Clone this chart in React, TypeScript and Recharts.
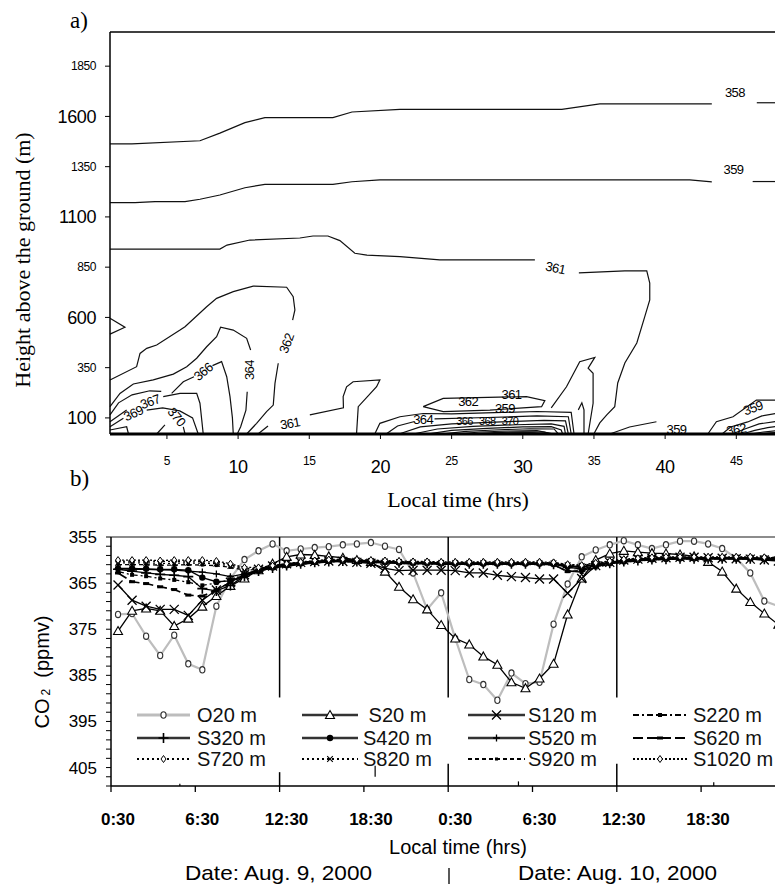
import React from 'react';
import { LineChart, Line, XAxis, YAxis, ReferenceLine, ReferenceDot, Legend } from 'recharts';

const SANS = '"Liberation Sans", Arial, sans-serif';
const SERIF = '"Liberation Serif", "Times New Roman", serif';

// ---------- a) CO2 contours: height above ground vs local time ----------

const HEIGHT_TICKS = [100, 350, 600, 850, 1100, 1350, 1600, 1850];
const HEIGHT_BIG = [100, 600, 1100, 1600];
const HOUR_TICKS = [5, 10, 15, 20, 25, 30, 35, 40, 45];
const HOUR_BIG = [10, 20, 30, 40];

// contour polylines as [hour, height m]
const C358_A = [[1, 1463], [2.54, 1463], [7.32, 1479], [8.72, 1517], [10.48, 1569], [11.88, 1594], [16.66, 1594], [18.0, 1622], [21.37, 1635], [32.74, 1635], [35.41, 1662], [43.28, 1662]];
const C358_B = [[46.44, 1668], [48, 1668]];
const C359_A = [[1, 1171], [2.76, 1171], [4.16, 1176], [6.27, 1176], [7.32, 1188], [8.72, 1209], [10.48, 1245], [11.88, 1262], [16.66, 1262], [18.0, 1275], [19.96, 1284], [41.73, 1284], [43.28, 1274]];
const C359_B = [[46.15, 1276], [48, 1276]];
const C361_A = [[1, 940], [8.72, 940], [9.22, 960], [10.83, 985], [14.34, 995], [15.26, 1005], [16.31, 1005], [17.15, 982], [18.2, 919], [19.05, 910], [21.37, 902], [24.17, 886], [30.85, 886]];
const C361_B = [[33.94, 822], [37.17, 832], [38.71, 832], [38.92, 771], [38.92, 687], [38.57, 604], [38.01, 473], [37.17, 373], [36.67, 274], [36.46, 156], [35.9, 115], [35.41, 75], [34.99, 20]];
const C362_A = [[1, 289], [2.87, 355], [3.11, 421], [3.58, 446], [4.28, 463], [5.92, 537], [6.27, 554], [7.79, 653], [8.49, 695], [9.66, 728], [11.06, 756], [13.41, 750], [13.87, 703], [13.99, 637], [13.83, 587]];
const C362_B = [[12.82, 372], [12.59, 272], [12.47, 164], [12.0, 131], [11.3, 73], [10.6, 20]];
const C364_A = [[1, 156], [1.7, 222], [2.64, 269], [4.04, 289], [5.45, 318], [6.39, 355], [7.09, 397], [7.79, 454], [8.49, 504], [8.77, 551], [9.66, 537], [10.6, 496], [10.88, 438]];
const C364_B = [[10.64, 230], [10.55, 139], [10.18, 56], [9.94, 20]];
const C366_A = [[1, 115], [1.6, 175], [2.55, 215], [3.8, 235], [4.6, 232]];
const C366_B = [[5.33, 222], [6.15, 280], [6.9, 305]];
const C366_C = [[8.2, 360], [8.84, 380], [9.2, 305], [9.43, 206], [9.6, 100], [9.66, 20]];
const C367_A = [[1, 81], [2.17, 139]];
const C367_B = [[4.74, 206], [5.92, 222], [7.09, 222], [7.32, 173], [7.55, 20]];
const C369_A = [[1, 56], [1.94, 98]];
const C369_B = [[3.58, 139], [4.7, 150], [5.9, 135], [6.8, 100], [7.2, 20]];
const C370_A = [[4.28, 20], [4.86, 65]];
const C370_B = [[6.15, 56], [6.27, 20]];
const C_BOX = [[1, 40], [2.17, 56], [2.3, 20]];
const C_LEFT = [[1, 596], [2.05, 551], [1, 517]];
const C361_LOW_A = [[11.4, 20], [12.1, 60]];
const C361_LOW_B = [[15.04, 115], [17.4, 150], [17.38, 206], [17.62, 255], [18.08, 280], [19.96, 289], [19.73, 255], [18.44, 156], [18.32, 20]];
const C362_LOOP = [[23.0, 156], [24.41, 197], [30.26, 206], [31.55, 186], [31.32, 156], [27.69, 139], [24.41, 131], [23.0, 156]];
const D1 = [[19.6, 20], [19.96, 73], [21.37, 106], [23.0, 122], [25.0, 120], [28.0, 126], [31.0, 132], [33.4, 128], [33.6, 20]];
const D2_A = [[20.4, 20], [21.2, 60], [22.4, 82]];
const D2_B = [[23.8, 95], [27.5, 102], [31.0, 110], [33.2, 106], [33.4, 20]];
const D3 = [[21.3, 20], [22.8, 55], [25.0, 70], [28.5, 80], [31.5, 88], [33.0, 85], [33.2, 20]];
const D4 = [[22.3, 20], [24.0, 45], [26.5, 58], [29.5, 66], [32.0, 70], [32.9, 58], [33.0, 20]];
const D5 = [[23.3, 20], [25.0, 38], [27.5, 48], [30.0, 55], [32.0, 57], [32.7, 40], [32.8, 20]];
const D6 = [[24.3, 20], [26.0, 33], [28.0, 40], [30.5, 46], [32.2, 45], [32.5, 20]];
const D7 = [[25.3, 20], [27.0, 30], [29.0, 35], [31.0, 37], [32.2, 20]];
const D8 = [[26.3, 20], [28.0, 27], [30.0, 31], [31.5, 29], [32.0, 20]];
const D9 = [[27.3, 20], [29.0, 25], [30.5, 26], [31.6, 20]];
const D10 = [[28.3, 20], [29.5, 23], [30.8, 23], [31.3, 20]];
const TONGUE = [[32.0, 150], [33.07, 255], [34.0, 380], [35.06, 401], [34.59, 347], [34.94, 322], [34.94, 173], [34.59, 20]];
const NARROW = [[33.9, 140], [34.15, 175], [34.3, 140], [34.3, 20]];
const C359_LOW = [[36.11, 20], [37.5, 55], [39.39, 81]];
const R1 = [[43.0, 20], [43.6, 81], [44.77, 106], [46.41, 189], [48, 189]];
const R2 = [[44.0, 20], [44.6, 55], [45.8, 80], [46.8, 110], [48, 125]];
const R3 = [[44.7, 20], [45.6, 45], [46.6, 70], [48, 85]];
const R4 = [[45.4, 20], [46.3, 38], [47.2, 52], [48, 60]];
const R5 = [[46.0, 20], [46.9, 30], [48, 38]];
const R6 = [[46.6, 20], [47.4, 26], [48, 28]];

const CONTOURS = [
  C358_A, C358_B, C359_A, C359_B, C361_A, C361_B, C362_A, C362_B, C364_A, C364_B,
  C366_A, C366_B, C366_C, C367_A, C367_B, C369_A, C369_B, C370_A, C370_B, C_BOX, C_LEFT,
  C361_LOW_A, C361_LOW_B, C362_LOOP, D1, D2_A, D2_B, D3, D4, D5, D6, D7, D8, D9, D10,
  TONGUE, NARROW, C359_LOW, R1, R2, R3, R4, R5, R6,
];

// [text, hour, height, rotation, font size]
const CONTOUR_LABELS: [string, number, number, number, number][] = [
  ['358', 44.9, 1721, 0, 13],
  ['359', 44.8, 1338, 0, 13],
  ['361', 32.3, 846, 12, 13],
  ['362', 13.4, 471, -70, 13],
  ['364', 10.83, 338, -90, 13],
  ['366', 7.55, 330, -40, 13],
  ['367', 3.81, 181, -20, 13],
  ['369', 2.64, 123, -25, 13],
  ['370', 5.68, 106, 50, 13],
  ['361', 13.64, 73, -10, 13],
  ['364', 23.0, 90, 0, 13],
  ['362', 26.16, 183, 0, 13],
  ['361', 29.21, 219, 0, 13],
  ['359', 28.74, 146, 0, 13],
  ['366', 25.9, 84, 0, 11],
  ['368', 27.5, 84, 0, 11],
  ['370', 29.1, 84, 0, 11],
  ['359', 40.8, 43, 0, 13],
  ['359', 46.17, 150, -20, 13],
  ['362', 45.0, 43, -10, 13],
];

// ---------- b) CO2 time series ----------

const TIMES = [0.5, 1.5, 2.5, 3.5, 4.5, 5.5, 6.5, 7.5, 8.5, 9.5, 10.5, 11.5, 12.5, 13.5, 14.5, 15.5, 16.5, 17.5, 18.5, 19.5, 20.5, 21.5, 22.5, 23.5,
  24.5, 25.5, 26.5, 27.5, 28.5, 29.5, 30.5, 31.5, 32.5, 33.5, 34.5, 35.5, 36.5, 37.5, 38.5, 39.5, 40.5, 41.5, 42.5, 43.5, 44.5, 45.5, 46.5, 47.5];
const TIME_TICKS = [0, 6, 12, 18, 24, 30, 36, 42];
const TIME_LABELS = ['0:30', '6:30', '12:30', '18:30', '0:30', '6:30', '12:30', '18:30'];
const CO2_TICKS = [355, 357, 359, 361, 363, 365, 367, 369, 371, 373, 375, 377, 379, 381, 383, 385, 387, 389, 391, 393, 395, 397, 399, 401, 403, 405, 407, 409];
const CO2_LABELLED = [355, 365, 375, 385, 395, 405];

const O20 = [371.8, 371.6, 376.5, 380.7, 376.3, 382.5, 383.8, 370.0, 364.0, 359.9, 358.0, 356.5, 358.0, 357.6, 357.3, 357.1, 356.7, 356.5, 356.2, 357.0, 357.7, 362.8, 370.7, 367.1,
  377.0, 385.9, 387.0, 390.4, 384.5, 386.8, 386.5, 373.9, 365.2, 359.3, 357.8, 356.7, 355.8, 356.7, 357.5, 356.7, 355.9, 355.9, 356.5, 357.5, 359.6, 362.8, 368.9, 370.0];
const S20 = [375.4, 371.0, 370.5, 371.0, 374.3, 372.7, 370.1, 367.8, 365.6, 364.0, 362.2, 360.8, 359.3, 358.8, 358.9, 359.2, 359.5, 360.0, 360.4, 362.5, 365.8, 368.5, 370.7, 374.1,
  377.0, 378.3, 380.9, 382.7, 386.5, 387.8, 385.7, 382.5, 371.8, 364.0, 360.0, 358.6, 358.0, 358.3, 358.5, 358.6, 358.8, 359.2, 360.4, 362.5, 366.2, 369.1, 371.6, 374.0];
const S120 = [365.4, 368.7, 370.0, 370.7, 370.7, 372.0, 368.7, 366.5, 364.8, 363.2, 362.0, 361.3, 360.8, 360.5, 360.3, 360.2, 360.3, 360.5, 360.7, 361.8, 362.3, 362.2, 362.2, 362.2,
  362.3, 362.8, 362.8, 363.3, 363.6, 363.8, 364.1, 364.1, 367.2, 364.0, 361.2, 360.5, 360.0, 359.8, 359.6, 359.5, 359.4, 359.4, 359.5, 359.6, 359.7, 359.8, 360.0, 360.2];
const S220 = [362.5, 363.2, 363.5, 364.0, 364.3, 364.8, 365.5, 365.0, 364.2, 363.2, 362.3, 361.7, 361.3, 360.9, 360.6, 360.4, 360.3, 360.4, 360.5, 360.6, 360.7, 360.8, 360.9, 360.9,
  361.0, 361.0, 361.0, 361.0, 361.0, 361.0, 361.0, 361.1, 362.4, 362.6, 361.6, 360.9, 360.5, 360.2, 360.0, 359.9, 359.8, 359.8, 359.8, 359.8, 359.8, 359.8, 359.9, 359.9];
const S320 = [362.0, 362.4, 362.8, 363.1, 363.3, 363.6, 366.2, 366.7, 365.5, 363.5, 362.4, 361.7, 361.2, 360.8, 360.5, 360.3, 360.2, 360.3, 360.4, 360.5, 360.6, 360.7, 360.7, 360.8,
  360.8, 360.8, 360.8, 360.8, 360.8, 360.8, 360.8, 360.9, 361.6, 361.9, 361.2, 360.7, 360.3, 360.1, 359.9, 359.8, 359.7, 359.7, 359.7, 359.7, 359.7, 359.7, 359.8, 359.8];
const S420 = [361.8, 361.8, 361.9, 362.0, 362.0, 362.2, 363.8, 364.7, 364.5, 363.3, 362.3, 361.6, 361.1, 360.7, 360.4, 360.2, 360.1, 360.2, 360.3, 360.4, 360.5, 360.6, 360.6, 360.7,
  360.7, 360.7, 360.7, 360.7, 360.7, 360.7, 360.7, 360.8, 361.4, 361.6, 361.0, 360.6, 360.2, 360.0, 359.8, 359.7, 359.6, 359.6, 359.6, 359.6, 359.6, 359.6, 359.7, 359.7];
const S520 = [361.9, 362.0, 362.0, 362.1, 362.2, 362.4, 362.6, 363.0, 363.6, 363.0, 362.2, 361.6, 361.0, 360.6, 360.3, 360.1, 360.0, 360.1, 360.2, 360.3, 360.4, 360.5, 360.5, 360.6,
  360.6, 360.6, 360.6, 360.6, 360.6, 360.6, 360.6, 360.7, 361.2, 361.5, 360.9, 360.5, 360.1, 359.9, 359.7, 359.6, 359.5, 359.5, 359.5, 359.5, 359.5, 359.5, 359.6, 359.6];
const S620 = [362.8, 364.7, 365.1, 365.8, 366.4, 367.6, 367.8, 366.5, 364.8, 363.4, 362.4, 361.7, 361.3, 360.9, 360.6, 360.4, 360.3, 360.4, 360.5, 360.6, 360.7, 360.8, 360.8, 360.9,
  360.9, 360.9, 360.9, 360.9, 360.9, 360.9, 360.9, 361.0, 362.5, 362.3, 361.4, 360.8, 360.4, 360.1, 359.9, 359.8, 359.7, 359.7, 359.7, 359.7, 359.7, 359.7, 359.8, 359.8];
const S720 = [360.3, 360.2, 360.2, 360.3, 360.3, 360.2, 360.3, 360.5, 361.0, 361.8, 361.8, 361.4, 360.9, 360.5, 360.2, 360.0, 359.9, 360.0, 360.1, 360.2, 360.3, 360.4, 360.4, 360.5,
  360.5, 360.5, 360.5, 360.5, 360.5, 360.5, 360.5, 360.6, 361.0, 361.2, 360.7, 360.3, 359.9, 359.7, 359.5, 359.4, 359.4, 359.4, 359.4, 359.4, 359.4, 359.4, 359.5, 359.5];
const S820 = [360.6, 360.6, 360.6, 360.7, 360.7, 360.6, 360.7, 360.8, 361.3, 362.0, 361.9, 361.5, 361.0, 360.6, 360.3, 360.1, 360.0, 360.1, 360.2, 360.3, 360.4, 360.5, 360.5, 360.6,
  360.6, 360.6, 360.6, 360.6, 360.6, 360.6, 360.6, 360.7, 361.1, 361.3, 360.8, 360.4, 360.0, 359.8, 359.6, 359.5, 359.5, 359.5, 359.5, 359.5, 359.5, 359.5, 359.6, 359.6];
const S920 = [361.0, 361.0, 361.0, 361.1, 361.1, 361.0, 361.1, 361.2, 361.6, 362.2, 362.0, 361.6, 361.1, 360.7, 360.4, 360.2, 360.1, 360.2, 360.3, 360.4, 360.5, 360.6, 360.6, 360.7,
  360.7, 360.7, 360.7, 360.7, 360.7, 360.7, 360.7, 360.8, 361.3, 361.4, 360.9, 360.5, 360.1, 359.9, 359.7, 359.6, 359.6, 359.6, 359.6, 359.6, 359.6, 359.6, 359.7, 359.7];
const S1020 = [360.0, 360.0, 360.0, 360.1, 360.0, 360.0, 360.0, 360.2, 360.8, 361.6, 361.6, 361.2, 360.8, 360.4, 360.1, 359.9, 359.8, 359.9, 360.0, 360.1, 360.2, 360.3, 360.3, 360.4,
  360.4, 360.4, 360.4, 360.4, 360.4, 360.4, 360.4, 360.5, 360.9, 361.1, 360.6, 360.2, 359.8, 359.6, 359.4, 359.3, 359.3, 359.3, 359.3, 359.3, 359.3, 359.3, 359.4, 359.4];

type Series = { key: string; name: string; values: number[]; marker: string; stroke: string; width: number; dash?: string };

const SERIES: Series[] = [
  { key: 'O20', name: 'O20 m', values: O20, marker: 'circle', stroke: '#bdbdbd', width: 2.2 },
  { key: 'S20', name: ' S20 m', values: S20, marker: 'triangle', stroke: '#000', width: 1.3 },
  { key: 'S120', name: 'S120 m', values: S120, marker: 'cross', stroke: '#000', width: 1.3 },
  { key: 'S220', name: 'S220 m', values: S220, marker: 'square', stroke: '#000', width: 1.3, dash: '6 3 2 3' },
  { key: 'S320', name: 'S320 m', values: S320, marker: 'plus', stroke: '#000', width: 1.3 },
  { key: 'S420', name: 'S420 m', values: S420, marker: 'dot', stroke: '#000', width: 1.3 },
  { key: 'S520', name: 'S520 m', values: S520, marker: 'smallplus', stroke: '#000', width: 1.3 },
  { key: 'S620', name: 'S620 m', values: S620, marker: 'bar', stroke: '#000', width: 1.6, dash: '10 4' },
  { key: 'S720', name: 'S720 m', values: S720, marker: 'diamond', stroke: '#000', width: 1.3, dash: '2 3' },
  { key: 'S820', name: 'S820 m', values: S820, marker: 'smallx', stroke: '#000', width: 1.3, dash: '2 3' },
  { key: 'S920', name: 'S920 m', values: S920, marker: 'tinysquare', stroke: '#000', width: 1.3, dash: '4 3' },
  { key: 'S1020', name: 'S1020 m', values: S1020, marker: 'diamond', stroke: '#000', width: 1.3, dash: '2 2' },
];

const ROWS_B = TIMES.map((t, i) => {
  const row: Record<string, number> = { t };
  SERIES.forEach(s => { row[s.key] = s.values[i]; });
  return row;
});

function Marker({ kind, x, y }: { kind: string; x: number; y: number }) {
  switch (kind) {
    case 'circle':
      return <ellipse cx={x} cy={y} rx={2.6} ry={3.2} fill="#fff" stroke="#333" strokeWidth={1.1} />;
    case 'triangle':
      return <path d={`M${x},${y - 4.5}L${x + 4.5},${y + 3.5}L${x - 4.5},${y + 3.5}Z`} fill="#fff" stroke="#000" strokeWidth={1.1} />;
    case 'cross':
      return <path d={`M${x - 4.5},${y - 4.5}L${x + 4.5},${y + 4.5}M${x - 4.5},${y + 4.5}L${x + 4.5},${y - 4.5}`} stroke="#000" strokeWidth={1.3} />;
    case 'square':
      return <rect x={x - 2} y={y - 2} width={4} height={4} fill="#000" />;
    case 'plus':
      return <path d={`M${x - 5},${y}L${x + 5},${y}M${x},${y - 5}L${x},${y + 5}`} stroke="#000" strokeWidth={1.6} />;
    case 'dot':
      return <circle cx={x} cy={y} r={3.2} fill="#000" />;
    case 'smallplus':
      return <path d={`M${x - 3.5},${y}L${x + 3.5},${y}M${x},${y - 3.5}L${x},${y + 3.5}`} stroke="#000" strokeWidth={1.3} />;
    case 'bar':
      return <rect x={x - 3} y={y - 1.5} width={6} height={3} fill="#000" />;
    case 'diamond':
      return <path d={`M${x},${y - 3.5}L${x + 2.5},${y}L${x},${y + 3.5}L${x - 2.5},${y}Z`} fill="#fff" stroke="#000" strokeWidth={1} />;
    case 'smallx':
      return <path d={`M${x - 2.8},${y - 2.8}L${x + 2.8},${y + 2.8}M${x - 2.8},${y + 2.8}L${x + 2.8},${y - 2.8}`} stroke="#000" strokeWidth={1.1} />;
    case 'tinysquare':
      return <rect x={x - 1.5} y={y - 1.5} width={3} height={3} fill="#000" />;
    default:
      return null;
  }
}

// legend grid, in chart-local pixels
const LEGEND_ROWS = [203, 226, 247];
const LEGEND_COLS = [
  { x1: 137, x2: 190, tx: 197 },
  { x1: 302, x2: 358, tx: 363 },
  { x1: 468, x2: 525, tx: 528 },
  { x1: 633, x2: 687, tx: 693 },
];

function LegendBlock() {
  return (
    <svg width={800} height={354} style={{ display: 'block' }}>
      {SERIES.map((s, i) => {
        const y = LEGEND_ROWS[Math.floor(i / 4)];
        const c = LEGEND_COLS[i % 4];
        const solid = !s.dash;
        return (
          <g key={s.key}>
            <line x1={c.x1} x2={c.x2} y1={y} y2={y}
              stroke={s.key === 'O20' ? '#bdbdbd' : solid ? '#333' : '#000'}
              strokeWidth={s.key === 'O20' ? 3 : solid ? 2.5 : 2}
              strokeDasharray={s.dash} />
            <Marker kind={s.marker} x={(c.x1 + c.x2) / 2} y={y} />
            <text x={c.tx} y={y + 7} fontFamily={SANS} fontSize={20} fill="#111" style={{ whiteSpace: 'pre' }}>{s.name}</text>
          </g>
        );
      })}
    </svg>
  );
}

function HeightTick(props: any) {
  const { y, payload } = props;
  const big = HEIGHT_BIG.includes(payload.value);
  return (
    <text x={96} y={y} dy={big ? 6.5 : 4.3} textAnchor="end" fontFamily={SANS} fontSize={big ? 18 : 12} letterSpacing={-0.4} fill="#000">
      {payload.value}
    </text>
  );
}

function HourTick(props: any) {
  const { x, payload } = props;
  const big = HOUR_BIG.includes(payload.value);
  return (
    <text x={x} y={big ? 472.5 : 464.5} textAnchor="middle" fontFamily={SANS} fontSize={big ? 18 : 12} letterSpacing={-0.4} fill="#000">
      {payload.value}
    </text>
  );
}

function TimeTick(props: any) {
  const { x, payload } = props;
  const idx = TIME_TICKS.indexOf(payload.value);
  return (
    <text x={x + 7} y={313} textAnchor="middle" fontFamily={SANS} fontSize={17} fontWeight="bold" fill="#000">
      {TIME_LABELS[idx]}
    </text>
  );
}

function Co2Tick(props: any) {
  const { y, payload } = props;
  if (!CO2_LABELLED.includes(payload.value)) return null;
  return (
    <text x={97} y={y} dy={6} textAnchor="end" fontFamily={SANS} fontSize={17} fill="#000">
      {payload.value}
    </text>
  );
}

const contourText = (text: string, angle: number, size: number) => (p: any) => (
  <text x={p.cx} y={p.cy} dy={size * 0.35} textAnchor="middle" fontFamily={SANS} fontSize={size} letterSpacing={-0.6}
    transform={angle ? `rotate(${angle} ${p.cx} ${p.cy})` : undefined} fill="#000">
    {text}
  </text>
);

function ContourPanel() {
  return (
    <LineChart width={790} height={512} margin={{ top: 32, right: 11, bottom: 0, left: 0 }}>
      <XAxis dataKey="t" type="number" domain={[1, 48]} ticks={HOUR_TICKS} tickSize={5}
        axisLine={{ stroke: '#000', strokeWidth: 3 }} tickLine={{ stroke: '#000' }} tick={<HourTick />} height={78}
        label={() => (
          <text x={458} y={507} textAnchor="middle" fontFamily={SERIF} fontSize={22} fill="#000">Local time (hrs)</text>
        )} />
      <YAxis dataKey="h" type="number" domain={[20, 2020]} ticks={HEIGHT_TICKS} width={110} tickSize={5}
        axisLine={{ stroke: '#000', strokeWidth: 1.5 }} tickLine={{ stroke: '#000' }} tick={<HeightTick />}
        label={() => (
          <text x={22} y={260} transform="rotate(-90 22 260)" textAnchor="middle" dominantBaseline="central"
            fontFamily={SERIF} fontSize={22} fill="#000">Height above the ground (m)</text>
        )} />
      <ReferenceLine y={2020} stroke="#000" strokeWidth={1.5} />
      {CONTOURS.map((c, i) => (
        <Line key={i} data={c.map(([t, h]) => ({ t, h }))} dataKey="h" type="linear" stroke="#111"
          strokeWidth={1.2} dot={false} activeDot={false} isAnimationActive={false} />
      ))}
      {CONTOUR_LABELS.map(([text, t, h, angle, size], i) => (
        <ReferenceDot key={`l${i}`} x={t} y={h} r={0} ifOverflow="visible" shape={contourText(text, angle, size)} />
      ))}
    </LineChart>
  );
}

function SeriesPanel() {
  return (
    <LineChart width={800} height={354} data={ROWS_B} margin={{ top: 25, right: 14.6, bottom: 0, left: 0 }}>
      <XAxis dataKey="t" type="number" domain={[0, 48]} ticks={TIME_TICKS} tickSize={6} height={80}
        axisLine={{ stroke: '#000', strokeWidth: 1.5 }} tickLine={{ stroke: '#000', strokeWidth: 1.3 }} tick={<TimeTick />}
        label={() => (
          <text x={458} y={342} textAnchor="middle" fontFamily={SANS} fontSize={20} fill="#000">Local time (hrs)</text>
        )} />
      <YAxis type="number" domain={[355, 409]} reversed ticks={CO2_TICKS} width={111} tickSize={5} interval={0}
        axisLine={{ stroke: '#000', strokeWidth: 1.5 }} tickLine={{ stroke: '#000' }} tick={<Co2Tick />}
        label={() => (
          <text x={42} y={160} transform="rotate(-90 42 160)" textAnchor="middle" dominantBaseline="central"
            fontFamily={SANS} fontSize={20} fill="#000">
            <tspan>CO</tspan>
            <tspan fontSize={12} dy={4} dx={3}>2</tspan>
            <tspan dy={-4}>{'\u00a0\u00a0(ppmv)'}</tspan>
          </text>
        )} />
      <ReferenceLine y={355} stroke="#8c8c8c" strokeWidth={2} />
      <ReferenceLine segment={[{ x: 12, y: 355 }, { x: 12, y: 389.8 }]} stroke="#000" strokeWidth={1.5} />
      <ReferenceLine segment={[{ x: 12, y: 406 }, { x: 12, y: 409 }]} stroke="#000" strokeWidth={1.5} />
      <ReferenceLine segment={[{ x: 24, y: 355 }, { x: 24, y: 389.8 }]} stroke="#000" strokeWidth={1.5} />
      <ReferenceLine segment={[{ x: 24, y: 404.2 }, { x: 24, y: 409 }]} stroke="#000" strokeWidth={1.5} />
      <ReferenceLine segment={[{ x: 36, y: 355 }, { x: 36, y: 389.8 }]} stroke="#000" strokeWidth={1.5} />
      <ReferenceLine segment={[{ x: 36, y: 404.2 }, { x: 36, y: 409 }]} stroke="#000" strokeWidth={1.5} />
      <ReferenceLine segment={[{ x: 18.8, y: 404.6 }, { x: 18.8, y: 407 }]} stroke="#000" strokeWidth={1.2} />
      <ReferenceLine segment={[{ x: 4.9, y: 408.5 }, { x: 4.9, y: 409 }]} stroke="#000" strokeWidth={1.2} />
      <ReferenceLine segment={[{ x: 29.0, y: 408 }, { x: 29.0, y: 409 }]} stroke="#000" strokeWidth={1.2} />
      <ReferenceLine segment={[{ x: 42.9, y: 408.2 }, { x: 42.9, y: 409 }]} stroke="#000" strokeWidth={1.2} />
      {SERIES.map(s => (
        <Line key={s.key} dataKey={s.key} type="linear" stroke={s.stroke} strokeWidth={s.width}
          strokeDasharray={s.dash} isAnimationActive={false} activeDot={false}
          dot={(p: any) => <Marker key={`${s.key}-${p.index}`} kind={s.marker} x={p.cx} y={p.cy} />} />
      ))}
      <Legend verticalAlign="middle" layout="horizontal" content={() => <LegendBlock />}
        wrapperStyle={{ position: 'absolute', left: 0, top: 0, width: 800, height: 354, pointerEvents: 'none' }} />
    </LineChart>
  );
}

export default function App() {
  return (
    <div style={{ position: 'absolute', left: 0, top: 0, width: 775, height: 895, overflow: 'hidden', background: '#fff' }}>
      <div style={{ position: 'absolute', left: 0, top: 0 }}>
        <ContourPanel />
      </div>
      <div style={{ position: 'absolute', left: 0, top: 512 }}>
        <SeriesPanel />
      </div>
      <svg width={775} height={895} style={{ position: 'absolute', left: 0, top: 0, pointerEvents: 'none' }}>
        <text x={70} y={28} fontFamily={SERIF} fontSize={23} fill="#000">a)</text>
        <text x={70} y={486} fontFamily={SERIF} fontSize={23} fill="#000">b)</text>
        <text x={185} y={880} fontFamily={SANS} fontSize={21} textLength={187} lengthAdjust="spacingAndGlyphs" fill="#000">Date: Aug. 9, 2000</text>
        <text x={518} y={880} fontFamily={SANS} fontSize={21} textLength={199} lengthAdjust="spacingAndGlyphs" fill="#000">Date: Aug. 10, 2000</text>
        <line x1={449} x2={449} y1={868} y2={884} stroke="#000" strokeWidth={1.3} />
      </svg>
    </div>
  );
}
